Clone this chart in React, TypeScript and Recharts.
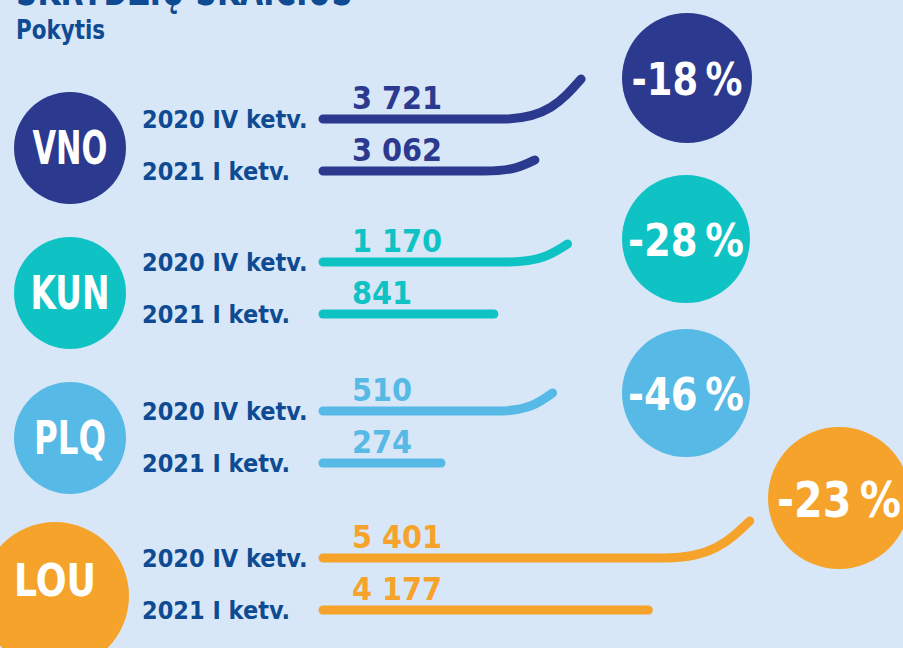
import React from 'react';
import { ComposedChart, Bar, XAxis, YAxis, LabelList, Customized } from 'recharts';

// flights per airport, two quarters
const airports = ['VNO', 'KUN', 'PLQ', 'LOU'];
const periods = ['2020 IV ketv.', '2021 I ketv.'];
const flightsQ4_2020 = [3721, 1170, 510, 5401];
const flightsQ1_2021 = [3062, 841, 274, 4177];

// every group in the original has its own length scale
const axisMax = [6270, 2080, 965, 5530];

const colors = ['#2b3a8f', '#0fc3c5', '#57b9e5', '#f5a32a'];
const TEXT_BLUE = '#0e4b92';
const BG = '#d8e7f8';
const FONT = "'DejaVu Sans Condensed', 'DejaVu Sans', sans-serif";

// layout (page pixels)
const LABEL_X = 142;
const groupCenterY = [145, 288, 437, 584];
// ty = text baseline
const badgeCircle = [
  { cx: 70, cy: 148, r: 56, fs: 46, w: 75, ty: 164 },
  { cx: 70, cy: 293, r: 56, fs: 46, w: 79, ty: 309 },
  { cx: 70, cy: 438, r: 56, fs: 46, w: 72, ty: 454 },
  { cx: 55, cy: 596, r: 74, fs: 45, w: 82, ty: 596 },
];
const changeCircle = [
  { cx: 687, cy: 78, r: 65, fs: 44, w: 111 },
  { cx: 686, cy: 239, r: 64, fs: 44, w: 116 },
  { cx: 686, cy: 393, r: 64, fs: 44, w: 116 },
  { cx: 839, cy: 498, r: 71, fs: 50, w: 124 },
];
// curl at the end of each line: [width, rise]
const curls = [
  [[78, 40], [50, 11]],
  [[60, 18], [0, 0]],
  [[55, 18], [0, 0]],
  [[85, 37], [0, 0]],
];

const CHART_H = 360;
const PLOT_H = 104;

const fmt = (v: number) => String(v).replace(/\B(?=(\d{3})+(?!\d))/g, ' ');

const LineShape = (props: any) => {
  const { x, y, width, height, index, color, curl } = props;
  const yc = y + height / 2;
  const [dx, dy] = curl[index] || [0, 0];
  const xe = x + width;
  const start = x + 3;
  let d = `M${start},${yc} `;
  if (dx > 0) {
    const xs = xe - dx;
    d += `L${xs},${yc} C${xs + dx * 0.55},${yc} ${xe - dx * 0.25},${yc - dy * 0.45} ${xe},${yc - dy}`;
  } else {
    d += `L${xe - 4},${yc}`;
  }
  return <path d={d} stroke={color} strokeWidth={9} strokeLinecap="round" fill="none" />;
};

const PeriodTick = (props: any) => {
  const { y, payload } = props;
  return (
    <text x={LABEL_X} y={y} dy={9} textAnchor="start" fontFamily={FONT} fontWeight={700} fontSize={25} fill={TEXT_BLUE}>
      {payload.value}
    </text>
  );
};

const Group = ({ g }: { g: number }) => {
  const rows = periods.map((p, j) => ({
    period: p,
    value: j === 0 ? flightsQ4_2020[g] : flightsQ1_2021[g],
  }));
  const top = groupCenterY[g] - CHART_H / 2;
  const color = colors[g];
  const b = badgeCircle[g];
  const c = changeCircle[g];
  const change = Math.round(((flightsQ1_2021[g] - flightsQ4_2020[g]) / flightsQ4_2020[g]) * 100);
  const margin = (CHART_H - PLOT_H) / 2;

  const Decor = () => (
    <g>
      <circle cx={b.cx} cy={b.cy - top} r={b.r} fill={color} />
      <text
        x={b.cx}
        y={b.ty - top}
        textAnchor="middle"
        textLength={b.w}
        lengthAdjust="spacingAndGlyphs"
        fontFamily={FONT}
        fontWeight={700}
        fontSize={b.fs}
        fill="#fff"
      >
        {airports[g]}
      </text>
      <circle cx={c.cx} cy={c.cy - top} r={c.r} fill={color} />
      <text
        x={c.cx}
        y={c.cy - top}
        dy={c.fs * 0.38}
        textAnchor="middle"
        textLength={c.w}
        lengthAdjust="spacingAndGlyphs"
        fontFamily={FONT}
        fontWeight={700}
        fontSize={c.fs}
        fill="#fff"
      >
        {`${change}\u2009%`}
      </text>
    </g>
  );

  return (
    <div style={{ position: 'absolute', left: 0, top, width: 903, height: CHART_H }}>
      <ComposedChart
        layout="vertical"
        width={903}
        height={CHART_H}
        data={rows}
        margin={{ top: margin, bottom: margin, left: 0, right: 143 }}
      >
        <Customized component={<Decor />} />
        <XAxis type="number" domain={[0, axisMax[g]]} hide />
        <YAxis
          type="category"
          dataKey="period"
          width={320}
          axisLine={false}
          tickLine={false}
          tickSize={0}
          tickMargin={0}
          tick={<PeriodTick />}
        />
        <Bar
          dataKey="value"
          barSize={10}
          isAnimationActive={false}
          shape={(p: any) => <LineShape {...p} color={color} curl={curls[g]} />}
        >
          <LabelList
            dataKey="value"
            content={(p: any) => (
              <text
                x={p.x + 32}
                y={p.y + p.height / 2 - 10}
                fontFamily={FONT}
                fontWeight={700}
                fontSize={32}
                fill={color}
              >
                {fmt(p.value)}
              </text>
            )}
          />
        </Bar>
      </ComposedChart>
    </div>
  );
}

export default function App() {
  return (
    <div
      style={{
        position: 'absolute',
        left: 0,
        top: 0,
        width: 903,
        height: 648,
        background: BG,
        overflow: 'hidden',
        fontFamily: FONT,
      }}
    >
      <svg width={903} height={60} style={{ position: 'absolute', left: 0, top: 0 }}>
        <text x={16} y={5} fontFamily={FONT} fontWeight={700} fontSize={44} fill={TEXT_BLUE} textLength={337} lengthAdjust="spacingAndGlyphs">
          SKRYDŽIŲ SKAIČIUS
        </text>
        <text x={16} y={39} fontFamily={FONT} fontWeight={700} fontSize={26} fill={TEXT_BLUE} textLength={89} lengthAdjust="spacingAndGlyphs">
          Pokytis
        </text>
      </svg>
      {airports.map((_, g) => (
        <Group key={g} g={g} />
      ))}
    </div>
  );
}
